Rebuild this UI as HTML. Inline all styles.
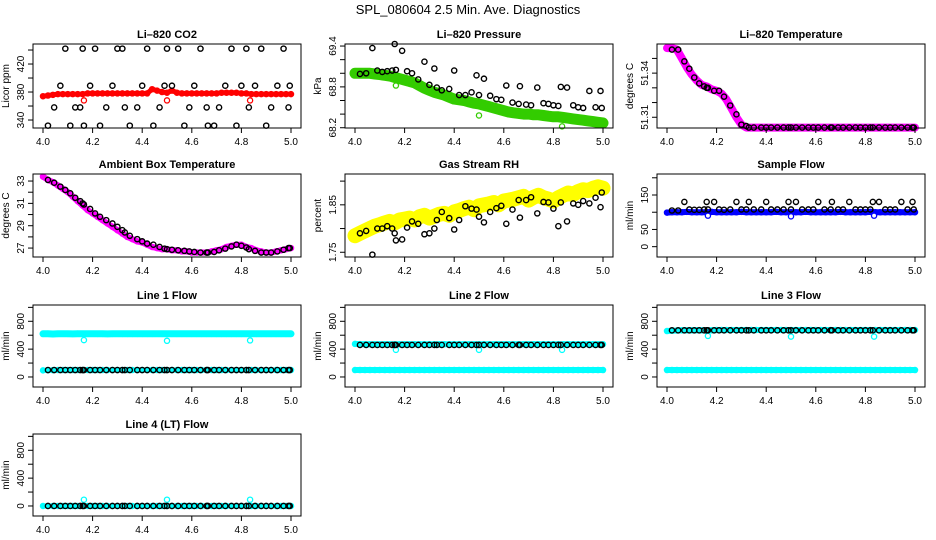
<!DOCTYPE html>
<html><head><meta charset="utf-8"><style>
html,body{margin:0;padding:0;background:#fff;}
svg{display:block;font-family:"Liberation Sans",sans-serif;}
</style></head><body>
<svg id="c" width="936" height="540" viewBox="0 0 936 540" xmlns="http://www.w3.org/2000/svg">
<rect width="936" height="540" fill="#fff"/>
<text x="468" y="14" text-anchor="middle" font-size="13">SPL_080604  2.5 Min. Ave. Diagnostics</text>
</svg>
<script>
const blackX=[4.02,4.045,4.07,4.09,4.11,4.13,4.15,4.16,4.165,4.19,4.21,4.23,4.255,4.28,4.30,4.32,4.33,4.35,4.38,4.40,4.42,4.445,4.47,4.49,4.50,4.52,4.545,4.57,4.59,4.61,4.635,4.66,4.665,4.69,4.71,4.735,4.76,4.78,4.80,4.82,4.83,4.855,4.88,4.90,4.92,4.945,4.97,4.99,4.995];
const denseX=[4.00,4.02,4.04,4.06,4.08,4.10,4.12,4.14,4.16,4.18,4.20,4.22,4.24,4.26,4.28,4.30,4.32,4.34,4.36,4.38,4.40,4.42,4.44,4.46,4.48,4.50,4.52,4.54,4.56,4.58,4.60,4.62,4.64,4.66,4.68,4.70,4.72,4.74,4.76,4.78,4.80,4.82,4.84,4.86,4.88,4.90,4.92,4.94,4.96,4.98,5.00];
const outX=[4.165,4.5,4.835];
const xTicks=[4.0,4.2,4.4,4.6,4.8,5.0];
const xTickLabels=["4.0","4.2","4.4","4.6","4.8","5.0"];

const co2Black=[332,358,389,442,332,358,358,442,332,389,442,332,358,389,442,442,358,332,358,389,442,332,358,389,442,389,442,332,358,389,442,358,332,332,358,389,442,332,389,442,358,389,442,332,358,389,442,358,389];
const co2Red=[374,375,376,377,377,377,377,377,377,378,378,378,378,378,378,378,378,378,378,378,378,378,384,382,380,379,382,379,378,378,378,378,378,378,378,378,379,379,379,379,378,378,377,377,377,377,377,377,377,377,377];
const co2Out=[368,368,368];

const presBlack=[68.99,69.0,69.37,69.04,69.02,69.03,69.04,69.43,69.05,69.33,69.03,69.0,68.91,69.17,68.83,69.07,68.79,68.75,68.77,69.04,68.68,68.68,68.72,68.97,68.68,68.92,68.67,68.62,68.61,68.82,68.57,68.55,68.81,68.54,68.53,68.79,68.56,68.55,68.53,68.52,68.80,68.79,68.53,68.50,68.49,68.74,68.50,68.74,68.49];
const presGreen=[69.0,69.0,69.0,69.0,68.99,68.98,68.97,68.96,68.94,68.92,68.90,68.88,68.86,68.82,68.78,68.75,68.72,68.70,68.68,68.65,68.62,68.61,68.60,68.58,68.56,68.55,68.53,68.51,68.49,68.47,68.45,68.43,68.42,68.41,68.40,68.40,68.39,68.39,68.38,68.37,68.36,68.36,68.35,68.34,68.33,68.32,68.31,68.30,68.29,68.28,68.27];
const presOut=[68.82,68.38,68.22];

const tempBlack=[51.356,51.356,51.348,51.343,51.337,51.333,51.331,51.330,51.330,51.328,51.328,51.324,51.318,51.312,51.305,51.304,51.303,51.303,51.303,51.303,51.303,51.303,51.303,51.303,51.303,51.303,51.303,51.303,51.303,51.303,51.303,51.303,51.303,51.303,51.303,51.303,51.303,51.303,51.303,51.303,51.303,51.303,51.303,51.303,51.303,51.303,51.303,51.303,51.303];
const tempMag=[51.357,51.357,51.356,51.350,51.344,51.339,51.335,51.332,51.331,51.329,51.328,51.326,51.322,51.316,51.310,51.305,51.303,51.303,51.303,51.303,51.303,51.303,51.303,51.303,51.303,51.303,51.303,51.303,51.303,51.303,51.303,51.303,51.303,51.303,51.303,51.303,51.303,51.303,51.303,51.303,51.303,51.303,51.303,51.303,51.303,51.303,51.303,51.303,51.303,51.303,51.303];

const ambBlack=[33.1,32.85,32.5,32.2,31.9,31.5,31.2,31.0,30.9,30.5,30.1,29.8,29.5,29.2,28.9,28.6,28.4,28.1,27.8,27.6,27.4,27.3,27.1,26.95,26.9,26.85,26.8,26.75,26.7,26.65,26.6,26.6,26.6,26.65,26.8,26.95,27.15,27.3,27.2,27.05,26.9,26.75,26.6,26.6,26.6,26.7,26.85,27.0,27.0];
const ambMag=[33.4,33.1,32.9,32.6,32.3,32.0,31.6,31.2,30.8,30.4,30.1,29.8,29.5,29.2,28.9,28.6,28.3,28.0,27.8,27.6,27.5,27.3,27.1,27.0,26.9,26.9,26.8,26.8,26.7,26.7,26.6,26.6,26.6,26.6,26.7,26.8,26.9,27.1,27.2,27.3,27.3,27.1,27.0,26.8,26.7,26.6,26.6,26.7,26.8,26.9,27.0];

const rhBlack=[1.79,1.795,1.745,1.80,1.80,1.805,1.80,1.79,1.775,1.777,1.802,1.815,1.81,1.788,1.79,1.80,1.818,1.835,1.822,1.798,1.818,1.847,1.842,1.84,1.825,1.813,1.835,1.843,1.848,1.81,1.840,1.86,1.823,1.86,1.866,1.832,1.856,1.855,1.842,1.805,1.855,1.815,1.853,1.85,1.858,1.853,1.865,1.845,1.876];
const rhYellow=[1.785,1.790,1.795,1.800,1.805,1.808,1.812,1.815,1.812,1.818,1.820,1.822,1.818,1.825,1.828,1.822,1.826,1.830,1.832,1.828,1.835,1.838,1.842,1.845,1.840,1.848,1.850,1.852,1.855,1.850,1.858,1.860,1.862,1.865,1.868,1.860,1.866,1.870,1.865,1.862,1.858,1.865,1.870,1.875,1.872,1.878,1.882,1.880,1.885,1.888,1.885];

const sfBlack=[105,105,130,108,107,107,108,130,108,130,108,107,108,130,108,108,130,108,108,130,108,108,108,130,108,130,108,108,108,130,108,108,130,108,108,130,108,108,108,108,130,130,108,108,108,130,108,130,108];
const sfBlue=[99,100,100,100,101,100,100,100,100,101,100,100,100,100,100,101,100,100,100,100,100,100,101,100,100,100,100,100,101,100,100,100,100,100,100,101,100,100,100,100,100,101,100,100,100,100,100,100,100,100,100];
const sfOut=[90,88,90];

const l1Black=[100,100,100,100,100,100,100,100,100,100,100,100,100,100,100,100,100,100,100,100,100,100,100,100,100,100,100,100,100,100,100,100,100,100,100,100,100,100,100,100,100,100,100,100,100,100,100,100,100];
const l1Upper=[620,622,618,620,621,620,619,622,620,620,621,620,620,619,620,621,620,620,620,620,620,620,620,621,620,620,620,620,620,620,620,620,620,620,620,620,620,620,620,620,620,620,620,620,620,620,620,620,620,620,620];
const l1Lower=[95,97,98,100,100,100,100,100,100,100,100,100,100,100,100,100,100,100,100,100,100,100,100,100,100,100,100,100,100,100,100,100,100,100,100,100,100,100,100,100,100,100,100,100,100,100,100,100,100,100,100];
const l1Out=[530,520,525];

const l2Black=[460,460,460,460,460,460,460,460,460,460,460,460,460,460,460,460,460,460,460,460,460,460,460,460,460,460,460,460,460,460,460,460,460,460,460,460,460,460,460,460,460,460,460,460,460,460,460,460,460];
const l2Upper=[475,472,470,470,470,470,470,470,470,470,470,470,470,470,470,470,470,470,470,470,470,470,470,470,470,470,470,470,470,470,470,470,470,470,470,470,470,470,470,470,470,470,470,470,470,470,470,470,470,470,470];
const l2Lower=[100,100,100,100,100,100,100,100,100,100,100,100,100,100,100,100,100,100,100,100,100,100,100,100,100,100,100,100,100,100,100,100,100,100,100,100,100,100,100,100,100,100,100,100,100,100,100,100,100,100,100];
const l2Out=[390,390,390];

const l3Black=[670,670,670,670,670,670,670,670,670,670,670,670,670,670,670,670,670,670,670,670,670,670,670,670,670,670,670,670,670,670,670,670,670,670,670,670,670,670,670,670,670,670,670,670,670,670,670,670,670];
const l3Upper=[660,665,668,670,670,670,672,670,670,670,675,675,675,675,675,675,675,675,675,675,675,675,675,675,675,675,675,675,675,675,675,675,675,675,675,675,675,675,675,675,675,675,675,675,675,675,675,675,675,675,675];
const l3Lower=[100,100,100,100,100,100,100,100,100,100,100,100,100,100,100,100,100,100,100,100,100,100,100,100,100,100,100,100,100,100,100,100,100,100,100,100,100,100,100,100,100,100,100,100,100,100,100,100,100,100,100];
const l3Out=[590,580,580];

const l4Black=[0,0,0,0,0,0,0,0,0,0,0,0,0,0,0,0,0,0,0,0,0,0,0,0,0,0,0,0,0,0,0,0,0,0,0,0,0,0,0,0,0,0,0,0,0,0,0,0,0];
const l4Cyan=[0,0,0,0,0,0,0,0,0,0,0,0,0,0,0,0,0,0,0,0,0,0,0,0,0,0,0,0,0,0,0,0,0,0,0,0,0,0,0,0,0,0,0,0,0,0,0,0,0,0,0];
const l4Out=[90,90,90];

const co2Ticks=[340,360,380,400,420,440], co2Labels=["340","","380","","420",""];
const presTicks=[68.2,68.4,68.6,68.8,69.0,69.2,69.4], presLabels=["68.2","","","68.8","","","69.4"];
const tempTicks=[51.31,51.32,51.33,51.34,51.35], tempLabels=["51.31","","","51.34",""];
const ambTicks=[27,28,29,30,31,32,33], ambLabels=["27","","29","","31","","33"];
const rhTicks=[1.75,1.80,1.85,1.90], rhLabels=["1.75","","1.85",""];
const sfTicks=[0,50,100,150,200], sfLabels=["0","50","","150",""];
const flowTicks=[0,200,400,600,800,1000], flowLabels=["0","","400","","800",""];

const NS="http://www.w3.org/2000/svg";
const svg=document.getElementById('c');
function mk(parent,tag,attrs,name,inter){
  const el=document.createElementNS(NS,tag);
  for(const k in attrs) el.setAttribute(k,attrs[k]);
  
  
  parent.appendChild(el); return el;
}
const colL=[33,345,657], rowT=[44,174,305,434], rowB=[128,257,387,516];
const panels=[
 {id:'co2',title:'Li–820 CO2',yl:'Licor ppm',c:0,r:0,ymin:328.6,ymax:448.6,ticks:co2Ticks,labels:co2Labels,
  dense:[[co2Red,'#ff0000',5]],black:co2Black,out:[co2Out,'#ff0000']},
 {id:'pressure',title:'Li–820 Pressure',yl:'kPa',c:1,r:0,ymin:68.196,ymax:69.43,ticks:presTicks,labels:presLabels,
  dense:[[presGreen,'#33cc00',11]],black:presBlack,out:[presOut,'#33cc00']},
 {id:'temperature',title:'Li–820 Temperature',yl:'degrees C',c:2,r:0,ymin:51.3027,ymax:51.3598,ticks:tempTicks,labels:tempLabels,
  dense:[[tempMag,'#ff00ff',8]],black:tempBlack},
 {id:'ambient',title:'Ambient Box Temperature',yl:'degrees C',c:0,r:1,ymin:26.2,ymax:33.63,ticks:ambTicks,labels:ambLabels,
  dense:[[ambMag,'#ff00ff',6]],black:ambBlack},
 {id:'rh',title:'Gas Stream RH',yl:'percent',c:1,r:1,ymin:1.74,ymax:1.915,ticks:rhTicks,labels:rhLabels,
  dense:[[rhYellow,'#ffff00',15]],black:rhBlack},
 {id:'sample-flow',title:'Sample Flow',yl:'ml/min',c:2,r:1,ymin:-30,ymax:211,ticks:sfTicks,labels:sfLabels,
  dense:[[sfBlue,'#0000ff',6]],black:sfBlack,out:[sfOut,'#0000ff']},
 {id:'line1',title:'Line 1 Flow',yl:'ml/min',c:0,r:2,ymin:-144,ymax:1034,ticks:flowTicks,labels:flowLabels,
  dense:[[l1Upper,'#00ffff',7],[l1Lower,'#00ffff',5]],black:l1Black,out:[l1Out,'#00ffff']},
 {id:'line2',title:'Line 2 Flow',yl:'ml/min',c:1,r:2,ymin:-144,ymax:1034,ticks:flowTicks,labels:flowLabels,
  dense:[[l2Upper,'#00ffff',6],[l2Lower,'#00ffff',6]],black:l2Black,out:[l2Out,'#00ffff']},
 {id:'line3',title:'Line 3 Flow',yl:'ml/min',c:2,r:2,ymin:-144,ymax:1034,ticks:flowTicks,labels:flowLabels,
  dense:[[l3Upper,'#00ffff',6],[l3Lower,'#00ffff',6]],black:l3Black,out:[l3Out,'#00ffff']},
 {id:'line4',title:'Line 4 (LT) Flow',yl:'ml/min',c:0,r:3,ymin:-144,ymax:1034,ticks:flowTicks,labels:flowLabels,
  dense:[[l4Cyan,'#00ffff',5]],black:l4Black,out:[l4Out,'#00ffff']}
];
panels.forEach(p=>{
  const L=colL[p.c], T=rowT[p.r], B=rowB[p.r], R=L+268;
  const xs=v=>L+10+(v-4)*248;
  const ys=v=>B-(v-p.ymin)/(p.ymax-p.ymin)*(B-T);
  const g=mk(svg,'g',{},p.id+'-panel',false);
  mk(g,'text',{x:(L+R)/2,y:T-6,'text-anchor':'middle','font-size':11,'font-weight':'bold'},p.id+'-title',false).textContent=p.title;
  p.dense.forEach((d,di)=>{
    const vals=d[0], n=Math.min(vals.length,denseX.length);
    let pts=[];
    for(let i=0;i<n;i++) pts.push(xs(denseX[i]).toFixed(1)+','+ys(vals[i]).toFixed(1));
    mk(g,'polyline',{points:pts.join(' '),fill:'none',stroke:d[1],'stroke-width':d[2],'stroke-linejoin':'round','stroke-linecap':'round'},p.id+'-band-'+di,false);
    for(let i=0;i<n;i++) mk(g,'circle',{cx:xs(denseX[i]),cy:ys(vals[i]),r:2.6,fill:'none',stroke:d[1],'stroke-width':1.3},p.id+'-point',false);
  });
  if(p.out){
    const o=p.out[0];
    for(let i=0;i<Math.min(o.length,outX.length);i++)
      mk(g,'circle',{cx:xs(outX[i]),cy:ys(o[i]),r:2.6,fill:'#fff',stroke:p.out[1],'stroke-width':1.3},p.id+'-outlier',false);
  }
  const n=Math.min(p.black.length,blackX.length);
  for(let i=0;i<n;i++)
    mk(g,'circle',{cx:xs(blackX[i]),cy:ys(p.black[i]),r:2.6,fill:'none',stroke:'#000','stroke-width':1.4},p.id+'-black-point',false);
  mk(g,'rect',{x:L,y:T,width:R-L,height:B-T,fill:'none',stroke:'#000','stroke-width':1},p.id+'-plot-box',false);
  mk(g,'line',{x1:xs(4),x2:xs(5),y1:B,y2:B,stroke:'#000'},p.id+'-x-axis',false);
  xTicks.forEach((t,i)=>{
    mk(g,'line',{x1:xs(t),x2:xs(t),y1:B,y2:B+5,stroke:'#000'},p.id+'-x-tick',false);
    mk(g,'text',{x:xs(t),y:B+17,'text-anchor':'middle','font-size':10},p.id+'-x-tick-label',false).textContent=xTickLabels[i];
  });
  mk(g,'line',{x1:L,x2:L,y1:ys(p.ticks[0]),y2:ys(p.ticks[p.ticks.length-1]),stroke:'#000'},p.id+'-y-axis',false);
  p.ticks.forEach((t,i)=>{
    const y=ys(t);
    mk(g,'line',{x1:L-5,x2:L,y1:y,y2:y,stroke:'#000'},p.id+'-y-tick',false);
    if(p.labels[i]) mk(g,'text',{x:L-9,y:y,'text-anchor':'middle','font-size':10,transform:`rotate(-90 ${L-9} ${y})`},p.id+'-y-tick-label',false).textContent=p.labels[i];
  });
  const my=(T+B)/2;
  mk(g,'text',{x:L-24,y:my,'text-anchor':'middle','font-size':10,transform:`rotate(-90 ${L-24} ${my})`},p.id+'-y-axis-title',false).textContent=p.yl;
});
</script>
</body></html>
